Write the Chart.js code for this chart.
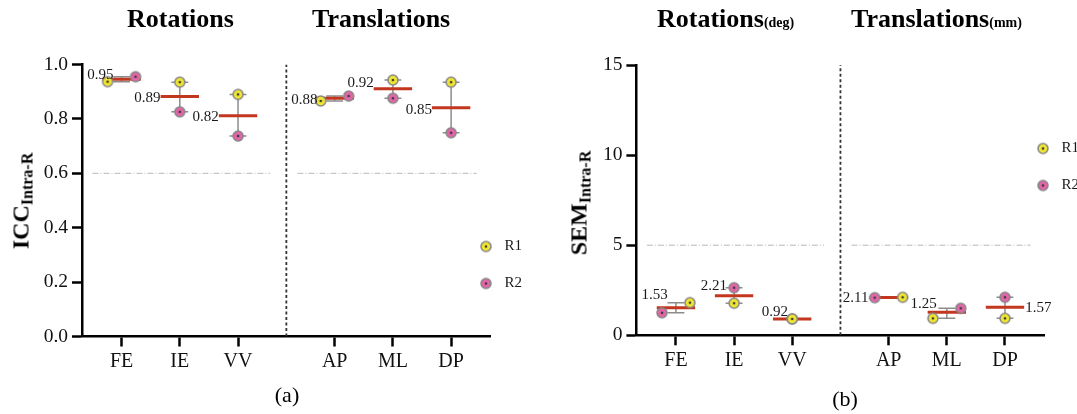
<!DOCTYPE html>
<html><head><meta charset="utf-8">
<script src="https://cdn.jsdelivr.net/npm/chart.js@4.4.0/dist/chart.umd.min.js"></script>
<style>
html,body{margin:0;padding:0;background:#fff;width:1077px;height:414px;overflow:hidden;font-family:"Liberation Serif","Times New Roman",serif;color:#000}
.abs{position:absolute;white-space:nowrap}
#ca{position:absolute;left:0;top:0}
#cb{position:absolute;left:540px;top:0}
.t{font-weight:bold;font-size:26px;line-height:26px}
.ts{font-size:14px}
.yt{font-weight:bold;font-size:24px;line-height:24px;transform:translate(-50%,-50%) rotate(-90deg)}
.yt sub{font-size:16px;vertical-align:baseline;position:relative;top:4px}
.cap{font-size:22px;line-height:22px;transform:translateX(-50%)}
</style></head><body>
<canvas id="ca" width="540" height="414"></canvas>
<canvas id="cb" width="537" height="414"></canvas>
<div class="abs t" style="left:127px;top:6px">Rotations</div>
<div class="abs t" style="left:312px;top:6px">Translations</div>
<div class="abs t" style="left:657px;top:6px">Rotations<span class="ts">(deg)</span></div>
<div class="abs t" style="left:851px;top:6px">Translations<span class="ts">(mm)</span></div>
<div class="abs yt" style="left:22px;top:201px">ICC<sub>Intra-R</sub></div>
<div class="abs yt" style="left:580px;top:203px">SEM<sub>Intra-R</sub></div>
<div class="abs cap" style="left:287px;top:384px">(a)</div>
<div class="abs cap" style="left:845px;top:388px">(b)</div>
<script>
// ---------- data ----------
const categories = ['FE','IE','VV','AP','ML','DP'];
const catPos = [0, 1, 2, 3.66, 4.66, 5.66];
const seriesNames = ['R1','R2'];

// Panel (a): ICC Intra-R
const iccR1 = [0.937, 0.935, 0.890, 0.866, 0.943, 0.935];
const iccR2 = [0.955, 0.826, 0.737, 0.884, 0.876, 0.749];
const iccMean = [0.946, 0.882, 0.812, 0.876, 0.911, 0.841];
const iccMeanText = ['0.95','0.89','0.82','0.88','0.92','0.85'];
const iccTicks = [0, 0.2, 0.4, 0.6, 0.8, 1.0];
const iccRef = 0.6;

// Panel (b): SEM Intra-R
const semR1 = [1.81, 1.78, 0.91, 2.11, 0.94, 0.94];
const semR2 = [1.25, 2.64, 0.91, 2.09, 1.50, 2.11];
const semMean = [1.53, 2.20, 0.91, 2.10, 1.28, 1.55];
const semMeanText = ['1.53','2.21','0.92','2.11','1.25','1.57'];
const semTicks = [0, 5, 10, 15];
const semRef = 5;

// ---------- layout / style ----------
const spreadA = [true,false,false,true,false,false];
const spreadB = [true,false,false,true,true,false];
const labA = {side:['l','l','l','l','l','l'], dx:[11,0,0,2,0,0], dy:[-4,1,1,2,-6,2]};
const labB = {side:['l','l','l','l','l','r'], dx:[11,12,15,-1,9,1], dy:[-13,-10,-7,1,-8,1]};
const SPREAD = 0.24, HALF = 0.33, CAP = 0.145, SEP = 2.83;
const XMIN = -0.68, XMAX = 6.34;
const YELLOW = '#f0e531', PINK = '#e266a8', RED = '#c3371f';
const FONT = '"Liberation Serif","Times New Roman",serif';

function marker(fill){
  const c = document.createElement('canvas'); c.width = c.height = 14;
  const g = c.getContext('2d');
  g.beginPath(); g.arc(7,7,5.0,0,Math.PI*2); g.fillStyle=fill; g.fill();
  g.lineWidth=1.5; g.strokeStyle='#868686'; g.stroke();
  g.beginPath(); g.arc(7,7,1.35,0,Math.PI*2); g.fillStyle='#3a3a3a'; g.fill();
  return c;
}
const mk = [marker(YELLOW), marker(PINK)];

const meanLabels = {
  id:'meanLabels',
  afterDatasetsDraw(chart, args, o){
    const {ctx, scales:{x, y}} = chart;
    ctx.save();
    ctx.font = '15px ' + FONT; ctx.fillStyle = '#1a1a1a'; ctx.textBaseline = 'middle';
    o.text.forEach((t,i)=>{
      const py = y.getPixelForValue(o.mean[i]) + o.dy[i];
      if (o.side[i] === 'l') { ctx.textAlign='right'; ctx.fillText(t, x.getPixelForValue(catPos[i]-HALF) + o.dx[i], py); }
      else { ctx.textAlign='left'; ctx.fillText(t, x.getPixelForValue(catPos[i]+HALF) + o.dx[i], py); }
    });
    ctx.restore();
  }
};
const legendPlace = {
  id:'legendPlace',
  afterLayout(chart, args, o){
    const lg = chart.legend; if(!lg) return;
    lg.left = o.left; lg.top = o.top; lg.right = o.left + 120; lg.bottom = o.top + 200;
    lg.width = 120; lg.height = 200;
  }
};

function buildPanel(id, r1, r2, mean, meanText, yTicks, yFmt, ref, spread, lab, box, leg){
  const yMax = yTicks[yTicks.length-1];
  const pts = [r1, r2].map((arr, k) => arr.map((v,i) => {
    let dx = 0;
    if (spread[i]) { const other = k===0 ? r2[i] : r1[i]; dx = v <= other ? -SPREAD : SPREAD; if (v === other) dx = k===0 ? -SPREAD : SPREAD; }
    return {x: catPos[i] + dx, y: v};
  }));
  const meanLine = [], errBar = [];
  catPos.forEach((p,i) => {
    meanLine.push({x:p-HALF, y:mean[i]}, {x:p+HALF, y:mean[i]}, {x:p+HALF+0.01, y:null});
    const lo = Math.min(r1[i], r2[i]), hi = Math.max(r1[i], r2[i]);
    errBar.push({x:p, y:lo}, {x:p, y:hi}, {x:p+0.001, y:null},
                {x:p-CAP, y:lo}, {x:p+CAP, y:lo}, {x:p+CAP+0.01, y:null},
                {x:p-CAP, y:hi}, {x:p+CAP, y:hi}, {x:p+CAP+0.01, y:null});
  });
  const refLine = [{x:-0.5,y:ref},{x:2.55,y:ref},{x:2.6,y:null},{x:3.02,y:ref},{x:6.1,y:ref}];
  const sepLine = [{x:SEP,y:0},{x:SEP,y:yMax}];
  const axisCommon = {
    grid:{drawOnChartArea:false, drawTicks:true, tickLength:10, tickColor:'#000', tickWidth:2.5},
    border:{display:true, color:'#000', width:2.5}
  };
  new Chart(document.getElementById(id), {
    type:'scatter',
    data:{ datasets:[
      {label:seriesNames[0], data:pts[0], pointStyle:mk[0], pointRadius:5, showLine:false, order:0},
      {label:seriesNames[1], data:pts[1], pointStyle:mk[1], pointRadius:5, showLine:false, order:1},
      {type:'line', label:'', data:meanLine, borderColor:RED, borderWidth:3, pointRadius:0, spanGaps:false, order:2},
      {type:'line', label:'', data:errBar, borderColor:'#8c8c8c', borderWidth:1.5, pointRadius:0, spanGaps:false, order:3},
      {type:'line', label:'', data:refLine, borderColor:'#b8b8b8', borderWidth:1, borderDash:[6,2,1,2], pointRadius:0, spanGaps:false, order:4},
      {type:'line', label:'', data:sepLine, borderColor:'#333', borderWidth:1.8, borderDash:[3,2.5], pointRadius:0, order:5}
    ]},
    options:{
      responsive:false, animation:false, events:[],
      layout:{padding:{left:0, top:box.top, right:box.right, bottom:0}},
      scales:{
        x:Object.assign({type:'linear', min:XMIN, max:XMAX,
          afterBuildTicks: s => { s.ticks = catPos.map(v => ({value:v})); },
          afterFit: s => { s.height = box.xh; },
          ticks:{autoSkip:false, maxRotation:0, padding:3, color:'#111', font:{family:FONT, size:20},
                 callback: v => categories[catPos.indexOf(v)]}
        }, axisCommon),
        y:Object.assign({type:'linear', min:0, max:yMax,
          afterBuildTicks: s => { s.ticks = yTicks.map(v => ({value:v})); },
          afterFit: s => { s.width = box.yw; },
          ticks:{padding:4, color:'#111', font:{family:FONT, size:19.5}, callback: v => yFmt(v)}
        }, axisCommon)
      },
      plugins:{
        tooltip:{enabled:false},
        legend:{ position:'chartArea', align:'start',
          labels:{ usePointStyle:true, pointStyleWidth:22, padding:22, color:'#1a1a1a',
                   font:{family:FONT, size:15}, filter: item => item.datasetIndex < 2 } },
        legendPlace: leg,
        meanLabels: {text:meanText, mean:mean, side:lab.side, dx:lab.dx, dy:lab.dy}
      }
    },
    plugins:[legendPlace, meanLabels]
  });
}

buildPanel('ca', iccR1, iccR2, iccMean, iccMeanText, iccTicks, v => v.toFixed(1), iccRef, spreadA, labA,
  {top:64.5, right:49.3, xh:77.5, yw:82}, {left:453, top:217});
buildPanel('cb', semR1, semR2, semMean, semMeanText, semTicks, v => String(v), semRef, spreadB, labB,
  {top:65, right:32.5, xh:78.7, yw:96.4}, {left:470, top:119});
</script>
</body></html>
